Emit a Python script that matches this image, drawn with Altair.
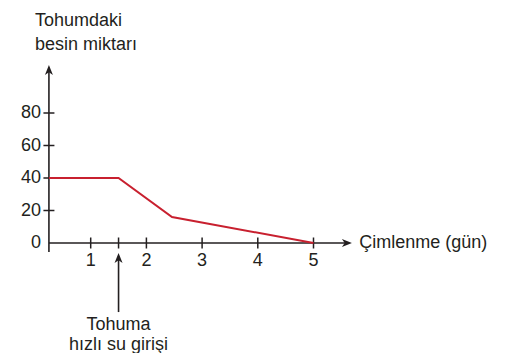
import altair as alt
import pandas as pd

# Data
line_x = [0.25, 1.5, 2.46, 5.0]
line_y = [40, 40, 16, 0]

x_ticks = [1, 1.5, 2, 3, 4, 5]
x_labels = [1, 2, 3, 4, 5]
y_ticks = [20, 40, 60, 80]
y_labels = [0, 20, 40, 60, 80]

x_origin = 0.25
x_end = 5.6
y_end = 106.5
y_start = -5.5
arrow_x = 1.5
arrow_top = -9.2
arrow_bottom = -42.5

FONT = "Liberation Sans"
INK = "#231f20"
RED = "#c8202f"

xs = alt.Scale(domain=[0, 6], nice=False, zero=False)
ys = alt.Scale(domain=[0, 110], nice=False, zero=False)
X = lambda f: alt.X(f, type="quantitative", scale=xs, axis=None)
Y = lambda f: alt.Y(f, type="quantitative", scale=ys, axis=None)

ARROW = "M0,-1 L0.8,1 L0,0.45 L-0.8,1 Z"

# axis lines
axes_df = pd.DataFrame({
    "x": [x_origin, x_origin, arrow_x],
    "x2": [x_end, x_origin, arrow_x],
    "y": [0, y_start, arrow_bottom],
    "y2": [0, y_end, arrow_top],
})
axes = alt.Chart(axes_df).mark_rule(color=INK, strokeWidth=1.6).encode(
    x=X("x"), x2="x2", y=Y("y"), y2="y2")

heads_df = pd.DataFrame({
    "x": [x_end, x_origin, arrow_x],
    "y": [0, y_end, arrow_top],
    "a": [90, 0, 0],
})
heads = alt.Chart(heads_df).mark_point(shape=ARROW, filled=True, color=INK, size=100, opacity=1).encode(
    x=X("x"), y=Y("y"), angle=alt.Angle("a:Q", scale=None))

xt = alt.Chart(pd.DataFrame({"x": x_ticks, "y": [0] * len(x_ticks)})).mark_tick(
    orient="vertical", size=11, thickness=1.5, color=INK, opacity=1).encode(x=X("x"), y=Y("y"))
yt = alt.Chart(pd.DataFrame({"x": [x_origin] * len(y_ticks), "y": y_ticks})).mark_tick(
    orient="horizontal", size=11, thickness=1.5, color=INK, opacity=1).encode(x=X("x"), y=Y("y"))

xl = alt.Chart(pd.DataFrame({"x": x_labels, "y": [0] * len(x_labels)})).mark_text(
    font=FONT, fontSize=18, color=INK, dy=18, baseline="middle", align="center").encode(
    x=X("x"), y=Y("y"), text="x:Q")
yl = alt.Chart(pd.DataFrame({"x": [x_origin] * len(y_labels), "y": y_labels})).mark_text(
    font=FONT, fontSize=18, color=INK, dx=-8, baseline="middle", align="right").encode(
    x=X("x"), y=Y("y"), text="y:Q")

line = alt.Chart(pd.DataFrame({"x": line_x, "y": line_y})).mark_line(
    color=RED, strokeWidth=2).encode(x=X("x"), y=Y("y"))

texts_df = pd.DataFrame({
    "x": [0.0, 5.82, 1.5],
    "y": [133.5, 0, -53.5],
    "t": ["Tohumdaki\nbesin miktarı", "Çimlenme (gün)", "Tohuma\nhızlı su girişi"],
})
t1 = alt.Chart(texts_df.iloc[[0]]).mark_text(
    font=FONT, fontSize=18, color=INK, align="left", baseline="alphabetic", lineBreak="\n", lineHeight=24).encode(
    x=X("x"), y=Y("y"), text="t:N")
t2 = alt.Chart(texts_df.iloc[[1]]).mark_text(
    font=FONT, fontSize=18, color=INK, align="left", baseline="middle").encode(
    x=X("x"), y=Y("y"), text="t:N")
t3 = alt.Chart(texts_df.iloc[[2]]).mark_text(
    font=FONT, fontSize=18, color=INK, align="center", baseline="alphabetic", lineBreak="\n", lineHeight=20).encode(
    x=X("x"), y=Y("y"), text="t:N")

chart = alt.layer(axes, heads, xt, yt, xl, yl, line, t1, t2, t3).properties(
    width=334.2, height=178.75,
    padding={"left": 27, "top": 56.25, "right": 140.8, "bottom": 110},
    autosize="none",
    background="white",
).configure_view(strokeWidth=0)

chart.save("out.html", embed_options={"renderer": "svg", "actions": False})
